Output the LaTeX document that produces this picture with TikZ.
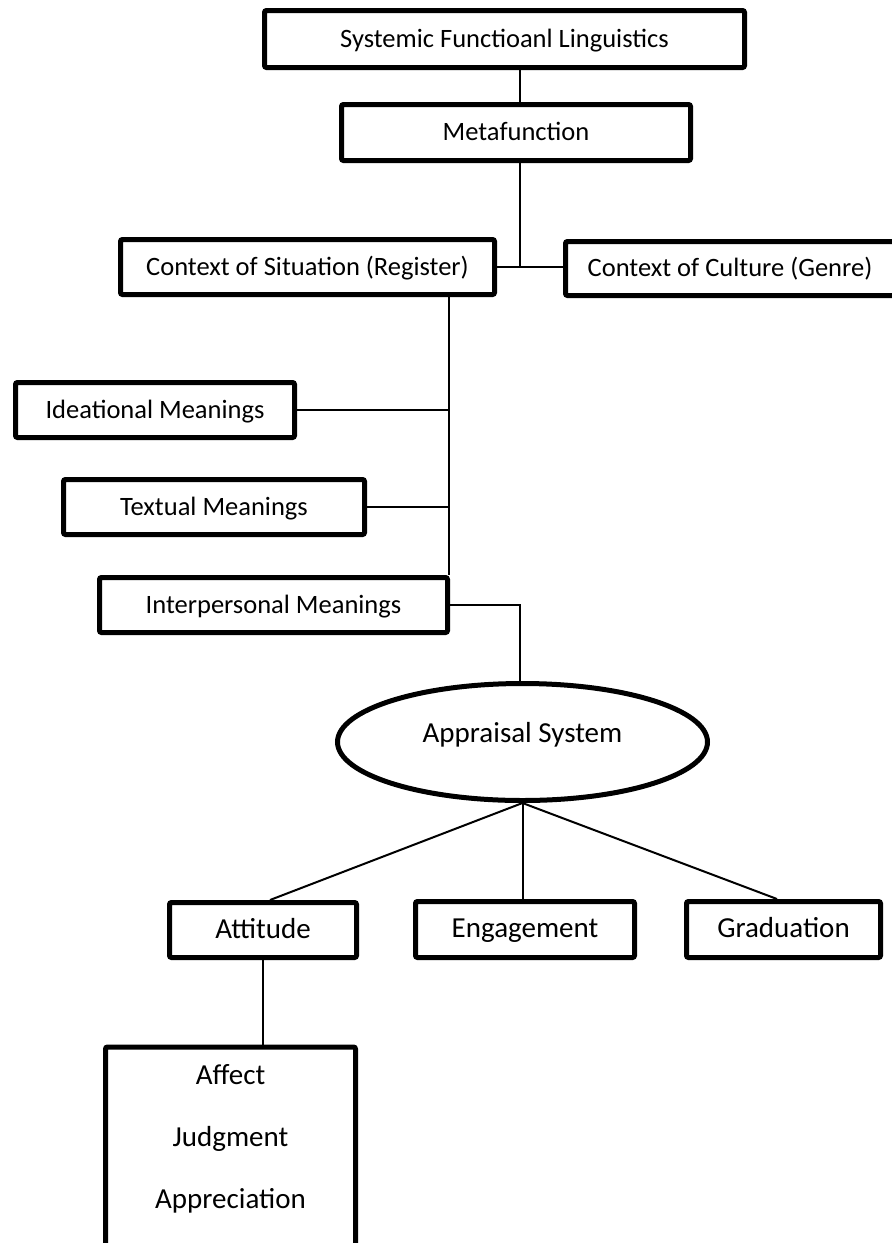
\documentclass[tikz,border=0pt]{standalone}
\usepackage{fontspec}
\setmainfont{Carlito}
\usetikzlibrary{shapes.geometric}

\tikzset{
    levelbox/.style={draw, line width=2.5pt, rounded corners=1pt, inner sep=0pt,
        text height=0.9em, text depth=0.06em, font=\fontsize{13.25}{15}\selectfont},
    lowbox/.style={levelbox, font=\fontsize{14.5}{17}\selectfont},
    link/.style={line width=1pt}
}

\begin{document}
\begin{tikzpicture}[x=0.5pt, y=-0.5pt]
    % Page frame
    \useasboundingbox (0,0) rectangle (892,1243);
    \clip (0,0) rectangle (892,1243);

    % Columns for the connectors
    \coordinate (spine) at (520,0);
    \coordinate (trunk) at (449,0);

    % Top of the hierarchy
    \node[levelbox, minimum width=240pt, minimum height=28.5pt] (sfl) at (504.5,39) {Systemic Functioanl Linguistics};
    \node[levelbox, minimum width=174.5pt, minimum height=28pt] (meta) at (516,132.5) {Metafunction};
    \node[levelbox, minimum width=187pt, minimum height=27.5pt] (sit) at (307.5,267) {Context of Situation (Register)};
    \node[levelbox, minimum width=164.5pt, minimum height=27pt] (cult) at (730,268.5) {Context of Culture (Genre)};

    % Meanings
    \node[levelbox, minimum width=139.5pt, minimum height=27.5pt] (idea) at (155,410) {Ideational Meanings};
    \node[levelbox, minimum width=150.5pt, minimum height=27.5pt] (textual) at (214,507) {Textual Meanings};
    \node[levelbox, minimum width=174pt, minimum height=27.5pt] (inter) at (273.5,605) {Interpersonal Meanings};

    % Appraisal
    \node[ellipse, draw, line width=2.5pt, inner sep=0pt, minimum width=185pt, minimum height=58.5pt,
        font=\fontsize{14.5}{17}\selectfont] (app) at (522.5,742) {\raisebox{10pt}{Appraisal System}};
    \node[lowbox, minimum width=93.5pt, minimum height=27.5pt] (att) at (263,930) {Attitude};
    \node[lowbox, minimum width=109.5pt, minimum height=28pt] (eng) at (525,929.5) {Engagement};
    \node[lowbox, minimum width=97pt, minimum height=28pt] (grad) at (783.5,929.5) {Graduation};
    \node[lowbox, anchor=north, minimum width=125pt, inner ysep=7.75pt, align=center,
        text height=73pt, text depth=120pt, font=\fontsize{14.5}{31}\selectfont] (kinds) at (230.5,1044.5)
        {Affect\\Judgment\\Appreciation};

    % Connectors
    \draw[link] (sfl.south -| spine) -- (meta.north -| spine);
    \draw[link] (meta.south -| spine) -- (spine |- sit.east);
    \draw[link] (sit.east) -- (sit.east -| cult.west);
    \draw[link] (sit.south -| trunk) -- (inter.north -| trunk);
    \draw[link] (idea.east) -- (idea.east -| trunk);
    \draw[link] (textual.east) -- (textual.east -| trunk);
    \draw[link] (inter.east) -- (inter.east -| spine) -- (spine |- app.north);
    \draw[link] (app.south) -- ([xshift=3.5pt]att.north);
    \draw[link] (app.south) -- (app.south |- eng.north);
    \draw[link] (app.south) -- ([xshift=-3.25pt]grad.north);
    \draw[link] (att.south) -- (att.south |- kinds.north);

\end{tikzpicture}
\end{document}
